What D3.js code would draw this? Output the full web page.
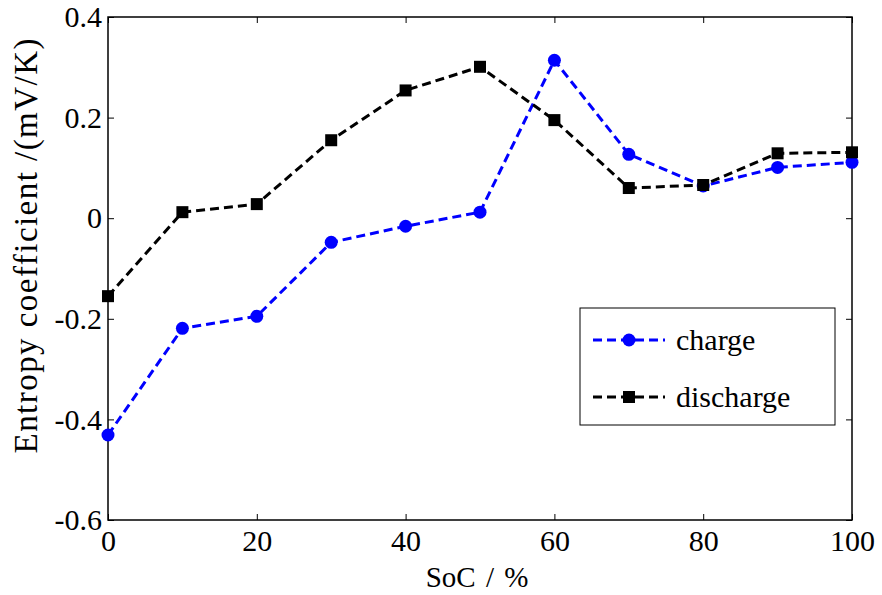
<!DOCTYPE html>
<html><head><meta charset="utf-8">
<script src="https://cdn.jsdelivr.net/npm/d3@7"></script>
<style>body{margin:0;background:#fff}svg{display:block}text{font-family:"Liberation Serif","Times New Roman","DejaVu Serif",serif;fill:#000}</style>
</head><body>
<script>
const soc = [0,10,20,30,40,50,60,70,80,90,100];
const charge = [-0.431,-0.219,-0.195,-0.048,-0.016,0.012,0.314,0.127,0.064,0.101,0.111];
const discharge = [-0.155,0.012,0.028,0.155,0.254,0.301,0.195,0.060,0.066,0.129,0.131];
const xTicks = [0,20,40,60,80,100];
const yTicks = [-0.6,-0.4,-0.2,0,0.2,0.4];
const yTickLabels = ["-0.6","-0.4","-0.2","0","0.2","0.4"];

const W=882,H=595;
const L=108,R=852,T=17,B=520;
const FF='"Liberation Serif","Times New Roman","DejaVu Serif",serif';
const svg=d3.select("body").append("svg").attr("width",W).attr("height",H);
const x=d3.scaleLinear().domain([0,100]).range([L,R]);
const y=d3.scaleLinear().domain([-0.6,0.4]).range([B,T]);

const fs="30px";
const ax=svg.append("g").attr("transform",`translate(0,${B})`).call(d3.axisBottom(x).tickValues(xTicks).tickSize(-6).tickPadding(10).tickFormat(d3.format("d")));
const axT=svg.append("g").attr("transform",`translate(0,${T})`).call(d3.axisTop(x).tickValues(xTicks).tickSize(-6).tickFormat(""));
const ay=svg.append("g").attr("transform",`translate(${L},0)`).call(d3.axisLeft(y).tickValues(yTicks).tickSize(-6).tickPadding(6).tickFormat((d,i)=>yTickLabels[i]));
const ayR=svg.append("g").attr("transform",`translate(${R},0)`).call(d3.axisRight(y).tickValues(yTicks).tickSize(-6).tickFormat(""));
[ax,axT,ay,ayR].forEach(g=>{g.attr("font-family",FF).attr("font-size",30);g.select(".domain").remove();g.selectAll("line").attr("stroke","#000").attr("stroke-width",1);g.selectAll("text").style("font-size",fs).style("font-family",FF);});
ax.selectAll("text").attr("dy","0.71em");
svg.append("rect").attr("x",L).attr("y",T).attr("width",R-L).attr("height",B-T).attr("fill","none").attr("stroke","#000").attr("stroke-width",1.5);

svg.append("text").attr("x",477).attr("y",587).attr("text-anchor","middle").style("font-family",FF).style("font-size","29px").attr("word-spacing","3px").text("SoC / %");
svg.append("text").attr("transform",`translate(37,246) rotate(-90)`).attr("text-anchor","middle").style("font-family",FF).style("font-size","33px").attr("textLength",415).attr("lengthAdjust","spacing").text("Entropy coefficient /(mV/K)");

const line=d3.line().x((d,i)=>x(soc[i])).y(d=>y(d));
const dash="9,5";
svg.append("path").datum(charge).attr("d",line).attr("fill","none").attr("stroke","#0000ff").attr("stroke-width",3).attr("stroke-dasharray",dash);
svg.append("path").datum(discharge).attr("d",line).attr("fill","none").attr("stroke","#000").attr("stroke-width",3).attr("stroke-dasharray",dash);
svg.selectAll(".c").data(charge).enter().append("circle").attr("cx",(d,i)=>x(soc[i])).attr("cy",d=>y(d)).attr("r",6.5).attr("fill","#0000ff");
svg.selectAll(".s").data(discharge).enter().append("rect").attr("x",(d,i)=>x(soc[i])-6).attr("y",d=>y(d)-6).attr("width",12).attr("height",12).attr("fill","#000");

const lg=svg.append("g");
lg.append("rect").attr("x",580).attr("y",308).attr("width",255).attr("height",117).attr("fill","#fff").attr("stroke","#000").attr("stroke-width",1);
const items=[{n:"charge",c:"#0000ff",m:"circle"},{n:"discharge",c:"#000",m:"square"}];
items.forEach((it,i)=>{
  const yy=340+i*57;
  lg.append("line").attr("x1",593).attr("x2",665).attr("y1",yy).attr("y2",yy).attr("stroke",it.c).attr("stroke-width",3).attr("stroke-dasharray",dash);
  if(it.m==="circle") lg.append("circle").attr("cx",629).attr("cy",yy).attr("r",6.5).attr("fill",it.c);
  else lg.append("rect").attr("x",623).attr("y",yy-6).attr("width",12).attr("height",12).attr("fill",it.c);
  lg.append("text").attr("x",676).attr("y",yy+10).style("font-family",FF).style("font-size","30px").text(it.n);
});
</script>
</body></html>
